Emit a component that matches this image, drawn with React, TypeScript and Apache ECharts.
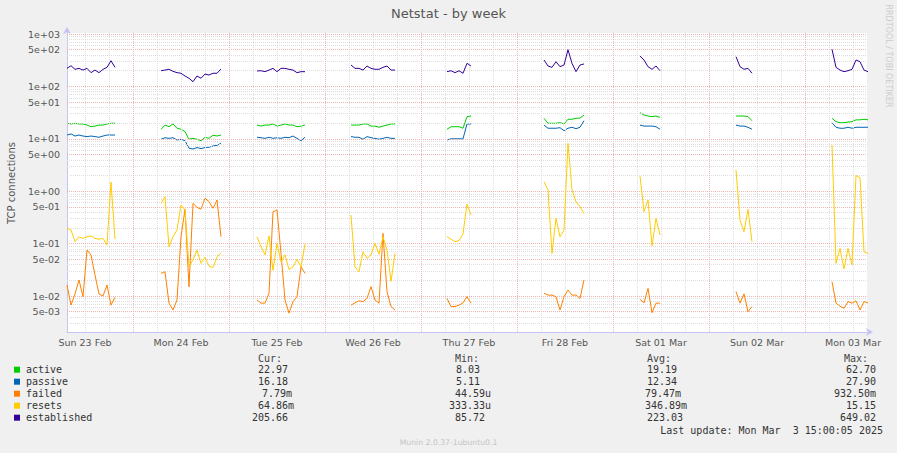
import React, { useEffect, useRef } from "react";
import * as echarts from "echarts";

const chartTitle = "Netstat - by week";
const yAxisTitle = "TCP connections";
const watermark = "RRDTOOL / TOBI OETIKER";
const footer = "Munin 2.0.37-1ubuntu0.1";
const lastUpdate = "Last update: Mon Mar  3 15:00:05 2025";

// x axis: hours since Sun 23 Feb 00:00
const dayLabels = ["Sun 23 Feb", "Mon 24 Feb", "Tue 25 Feb", "Wed 26 Feb", "Thu 27 Feb", "Fri 28 Feb", "Sat 01 Mar", "Sun 02 Mar", "Mon 03 Mar"];
const dayLabelHours = [12, 36, 60, 84, 108, 132, 156, 180, 204];
const axisStartHour = 7.5;
const axisEndHour = 207.5;

const yTickValues = [0.005, 0.01, 0.05, 0.1, 0.5, 1, 5, 10, 50, 100, 500, 1000];
const yTickLabels = ["5e-03", "1e-02", "5e-02", "1e-01", "5e-01", "1e+00", "5e+00", "1e+01", "5e+01", "1e+02", "5e+02", "1e+03"];
const yMinValue = 0.002056;
const yMaxValue = 1045;

// start hour of each data block (1 h step)
const segmentStarts = [7.5, 31, 55, 78.5, 102.5, 126.75, 150.75, 174.75, 198.75];

const seriesNames = ["active", "passive", "failed", "resets", "established"];
const seriesColors = ["#00CC00", "#0066B3", "#FF8000", "#FFCC00", "#330099"];

const active = [
  [19.8, 19.2, 19.8, 19.2, 19.2, 18.3, 17.0, 17.5, 18.3, 18.3, 19.2, 19.8, 19.8],
  [15.2, 18.3, 17.0, 19.2, 15.9, 15.2, 13.7, 9.8, 10.2, 9.8, 9.2, 10.7, 10.2, 11.7, 11.3, 11.8],
  [18.3, 17.5, 18.3, 18.3, 19.2, 17.5, 18.3, 19.2, 18.3, 18.3, 17.0, 17.5, 18.3],
  [18.3, 18.3, 18.3, 19.2, 19.2, 17.5, 17.5, 16.6, 17.5, 18.3, 19.2, 19.2],
  [15.2, 17.0, 17.0, 17.0, 15.9, 26.4, 27.2],
  [24.6, 19.8, 19.8, 19.8, 20.3, 19.2, 23.6, 23.6, 24.6, 24.9, 28.5],
  [31.5, 28.5, 27.2, 26.5, 27.2, 25.7],
  [27.2, 27.2, 27.2, 26.5, 22.1],
  [24.6, 21.2, 20.3, 20.3, 20.9, 21.2, 23.0, 23.0, 23.6, 23.0],
];

const passive = [
  [11.8, 12.4, 11.3, 11.8, 11.3, 11.0, 11.3, 11.0, 10.7, 11.3, 11.8, 11.8, 11.8],
  [9.8, 10.5, 10.2, 10.5, 9.5, 9.8, 9.2, 6.6, 6.4, 6.8, 6.5, 6.8, 6.9, 7.3, 7.5, 8.2],
  [10.7, 10.5, 10.2, 10.7, 10.2, 10.5, 10.2, 10.7, 10.5, 11.3, 10.2, 9.2, 10.7],
  [11.0, 10.7, 10.7, 9.8, 11.0, 10.5, 10.2, 9.8, 10.2, 10.7, 10.2, 10.2],
  [9.5, 10.0, 10.0, 10.0, 10.0, 19.2, 19.2],
  [18.3, 15.9, 15.9, 15.9, 16.3, 14.3, 15.9, 16.6, 15.6, 16.6, 22.1],
  [18.3, 17.5, 17.5, 17.5, 17.0, 15.2],
  [18.3, 17.5, 17.5, 16.6, 15.2],
  [20.3, 16.6, 15.9, 15.9, 16.6, 15.9, 16.6, 16.6, 16.6, 16.6],
];

const failed = [
  [0.0162, 0.0067, 0.0109, 0.0202, 0.0097, 0.0755, 0.0606, 0.0252, 0.0109, 0.0100, 0.0162, 0.0067, 0.0094],
  [0.027, 0.029, 0.0073, 0.0054, 0.0084, 0.135, 0.452, 0.015, 0.587, 0.493, 0.452, 0.733, 0.631, 0.472, 0.679, 0.135],
  [0.0084, 0.0073, 0.0073, 0.0113, 0.406, 0.438, 0.065, 0.0084, 0.0047, 0.0078, 0.0097, 0.036, 0.027],
  [0.0067, 0.0074, 0.0081, 0.0078, 0.0090, 0.0151, 0.0084, 0.0073, 0.157, 0.0121, 0.0063, 0.0054],
  [0.0090, 0.0063, 0.0063, 0.0067, 0.0074, 0.0097, 0.0073],
  [0.0113, 0.0104, 0.0104, 0.0097, 0.0054, 0.0097, 0.0130, 0.0104, 0.0104, 0.0090, 0.0202],
  [0.0086, 0.0074, 0.0140, 0.0048, 0.0073, 0.0073],
  [0.0121, 0.0073, 0.0110, 0.0050, 0.0063],
  [0.0188, 0.0073, 0.0064, 0.0058, 0.0078, 0.0073, 0.0081, 0.0054, 0.0078, 0.0074],
];

const resets = [
  [0.196, 0.182, 0.109, 0.135, 0.126, 0.135, 0.140, 0.126, 0.121, 0.126, 0.094, 1.5, 0.121],
  [0.587, 0.785, 0.087, 0.135, 0.182, 0.546, 0.438, 0.036, 0.049, 0.075, 0.042, 0.055, 0.037, 0.035, 0.055, 0.067],
  [0.135, 0.087, 0.061, 0.140, 0.031, 0.101, 0.045, 0.061, 0.032, 0.036, 0.050, 0.036, 0.098],
  [0.35, 0.036, 0.029, 0.070, 0.052, 0.061, 0.101, 0.063, 0.135, 0.075, 0.019, 0.065],
  [0.135, 0.122, 0.109, 0.114, 0.153, 0.57, 0.35],
  [1.52, 1.05, 0.065, 0.304, 0.135, 0.182, 8.2, 1.05, 0.631, 0.506, 0.379],
  [1.95, 0.406, 0.679, 0.09, 0.304, 0.146],
  [2.54, 0.28, 0.169, 0.45, 0.109],
  [7.6, 0.042, 0.081, 0.033, 0.081, 0.039, 2.0, 1.8, 0.070, 0.065],
];

const established = [
  [221, 248, 212, 221, 205, 221, 183, 205, 183, 212, 231, 309, 231],
  [199, 205, 212, 194, 183, 178, 158, 143, 123, 158, 143, 172, 165, 178, 178, 215],
  [197, 199, 191, 205, 221, 191, 221, 221, 212, 205, 183, 191, 191],
  [256, 221, 221, 205, 245, 221, 212, 212, 231, 245, 205, 205],
  [191, 199, 183, 199, 178, 276, 245],
  [319, 245, 231, 296, 238, 256, 500, 276, 191, 256, 268],
  [380, 319, 238, 212, 245, 199],
  [369, 238, 212, 221, 178],
  [511, 231, 205, 191, 199, 212, 319, 296, 205, 191],
];

const curValues = ["22.97", "16.18", "7.79m", "64.86m", "205.66"];
const minValues = ["8.03", "5.11", "44.59u", "333.33u", "85.72"];
const avgValues = ["19.19", "12.34", "79.47m", "346.89m", "223.03"];
const maxValues = ["62.70", "27.90", "932.50m", "15.15", "649.02"];

// ---------- layout / style constants ----------
const GRID = { left: 67, top: 33, width: 800, height: 299 };
const MONO = '"DejaVu Sans Mono", monospace';
const SANS = '"DejaVu Sans", sans-serif';
const MAJOR_GRID = "#f0b4b4";
const MINOR_GRID = "#dedede";
const AXIS_COLOR = "#c4c4f4";
const colHeaders = [
  { text: "Cur:", x: 258 },
  { text: "Min:", x: 455 },
  { text: "Avg:", x: 647 },
  { text: "Max:", x: 844 },
];
const colStarts = [
  [258, 258, 262, 258, 252],
  [456, 456, 455, 449, 455],
  [647, 647, 645, 645, 647],
  [846, 846, 834, 846, 840],
];

const L = Math.log10;

function buildData(segs: number[][]) {
  const out: any[] = [];
  segs.forEach((seg, si) => {
    const t0 = segmentStarts[si];
    seg.forEach((v, i) => out.push([t0 + i, L(v)]));
    out.push([t0 + seg.length - 0.5, "-"]);
  });
  return out;
}

function nearestLabel(v: number, vals: number[], labels: string[]) {
  for (let i = 0; i < vals.length; i++) {
    if (Math.abs(vals[i] - v) < 1e-4) return labels[i];
  }
  return "";
}

function buildOption() {
  const yLogTicks = yTickValues.map(L);
  const yMin = L(yMinValue);
  const yMax = L(yMaxValue);

  const gridLines: any[] = [];
  for (let k = -3; k <= 3; k++) {
    for (let m = 1; m <= 9; m++) {
      const v = m * Math.pow(10, k);
      const lv = L(v);
      if (lv < yMin || lv > yMax + 1e-9) continue;
      if (m === 1 || m === 5) continue;
      gridLines.push({ yAxis: lv, lineStyle: { color: MINOR_GRID, type: [1, 1], width: 1 } });
    }
  }
  for (let t = 12; t < axisEndHour; t += 6) {
    if (t % 24 === 0) continue;
    gridLines.push({ xAxis: t, lineStyle: { color: MINOR_GRID, type: [1, 1], width: 1 } });
  }
  for (let t = 24; t < axisEndHour; t += 24) {
    gridLines.push({ xAxis: t, lineStyle: { color: MAJOR_GRID, type: [1, 1], width: 1 } });
  }
  yLogTicks.forEach((lv) => {
    gridLines.push({ yAxis: lv, lineStyle: { color: MAJOR_GRID, type: [1, 1], width: 1 } });
  });

  const allData = [active, passive, failed, resets, established];

  const series: any[] = [
    {
      type: "line",
      data: [],
      z: 1,
      silent: true,
      markLine: {
        silent: true,
        symbol: ["none", "none"],
        label: { show: false },
        emphasis: { disabled: true },
        animation: false,
        data: gridLines,
      },
    },
  ];
  allData.forEach((segs, i) => {
    series.push({
      type: "line",
      name: seriesNames[i],
      data: buildData(segs),
      z: 3 + i,
      showSymbol: false,
      symbol: "none",
      connectNulls: false,
      lineStyle: { color: seriesColors[i], width: 1 },
      itemStyle: { color: seriesColors[i] },
      emphasis: { disabled: true },
      silent: true,
    });
  });

  const graphic: any[] = [];
  const txt = (o: any) => {
    const s = o.style;
    if (s.textAlign) s.align = s.textAlign;
    if (s.textVerticalAlign) s.verticalAlign = s.textVerticalAlign;
    graphic.push({ type: "text", silent: true, ...o });
  };

  txt({
    x: 448.5, y: 13,
    style: { text: chartTitle, fill: "#555", fontSize: 13, fontFamily: SANS, textAlign: "center", textVerticalAlign: "middle" },
  });
  txt({
    x: 11, y: 183, rotation: Math.PI / 2,
    style: { text: yAxisTitle, fill: "#555", fontSize: 10, fontFamily: SANS, textAlign: "center", textVerticalAlign: "middle" },
  });
  txt({
    x: 888, y: 56, rotation: -Math.PI / 2,
    style: { text: watermark, fill: "#cccccc", fontSize: 8, fontFamily: SANS, textAlign: "center", textVerticalAlign: "middle" },
  });
  txt({
    x: 448.5, y: 442,
    style: { text: footer, fill: "#c4c4c4", fontSize: 7.7, fontFamily: SANS, textAlign: "center", textVerticalAlign: "middle" },
  });

  const rowY0 = 369.7;
  const rowH = 12;
  colHeaders.forEach((h) => {
    txt({ x: h.x, y: 358, style: { text: h.text, fill: "#444", fontSize: 10, fontFamily: MONO, textAlign: "left", textVerticalAlign: "middle" } });
  });
  const cols = [curValues, minValues, avgValues, maxValues];
  seriesNames.forEach((name, i) => {
    const y = rowY0 + i * rowH;
    graphic.push({
      type: "rect", silent: true,
      shape: { x: 14, y: y - 3, width: 6, height: 6 },
      style: { fill: seriesColors[i] },
    });
    txt({ x: 26, y, style: { text: name, fill: "#333", fontSize: 10, fontFamily: MONO, textAlign: "left", textVerticalAlign: "middle" } });
    cols.forEach((col, c) => {
      txt({ x: colStarts[c][i], y, style: { text: col[i], fill: "#333", fontSize: 10, fontFamily: MONO, textAlign: "left", textVerticalAlign: "middle" } });
    });
  });
  txt({
    x: 883, y: 430,
    style: { text: lastUpdate, fill: "#333", fontSize: 10, fontFamily: MONO, textAlign: "right", textVerticalAlign: "middle" },
  });

  return {
    animation: false,
    backgroundColor: "#F0F0F0",
    grid: { ...GRID, show: true, backgroundColor: "#ffffff", borderWidth: 0, containLabel: false },
    xAxis: {
      type: "value",
      min: axisStartHour,
      max: axisEndHour,
      axisLine: {
        show: true, onZero: false,
        lineStyle: { color: AXIS_COLOR, width: 1 },
        symbol: ["none", "arrow"], symbolSize: [6, 7], symbolOffset: [0, 6],
      },
      axisTick: { show: false },
      splitLine: { show: false },
      axisLabel: {
        customValues: dayLabelHours,
        formatter: (v: number) => nearestLabel(v, dayLabelHours, dayLabels),
        color: "#555", fontFamily: SANS, fontSize: 9.5, margin: 5,
        showMinLabel: true, showMaxLabel: true, hideOverlap: false,
      },
    },
    yAxis: {
      type: "value",
      min: yMin,
      max: yMax,
      axisLine: {
        show: true, onZero: false,
        lineStyle: { color: AXIS_COLOR, width: 1 },
        symbol: ["none", "arrow"], symbolSize: [6, 7], symbolOffset: [0, 6],
      },
      axisTick: { show: false },
      splitLine: { show: false },
      axisLabel: {
        customValues: yLogTicks,
        formatter: (v: number) => nearestLabel(v, yLogTicks, yTickLabels),
        color: "#555", fontFamily: SANS, fontSize: 9.5, margin: 7,
        showMinLabel: true, showMaxLabel: true,
      },
    },
    series,
    graphic,
  };
}

export default function App() {
  const ref = useRef<HTMLDivElement>(null);
  useEffect(() => {
    const chart = echarts.init(ref.current as HTMLDivElement, null, { renderer: "svg" });
    chart.setOption(buildOption() as any);
    return () => chart.dispose();
  }, []);
  return (
    <div
      ref={ref}
      style={{ position: "fixed", left: 0, top: 0, width: 897, height: 453, background: "#F0F0F0" }}
    />
  );
}
